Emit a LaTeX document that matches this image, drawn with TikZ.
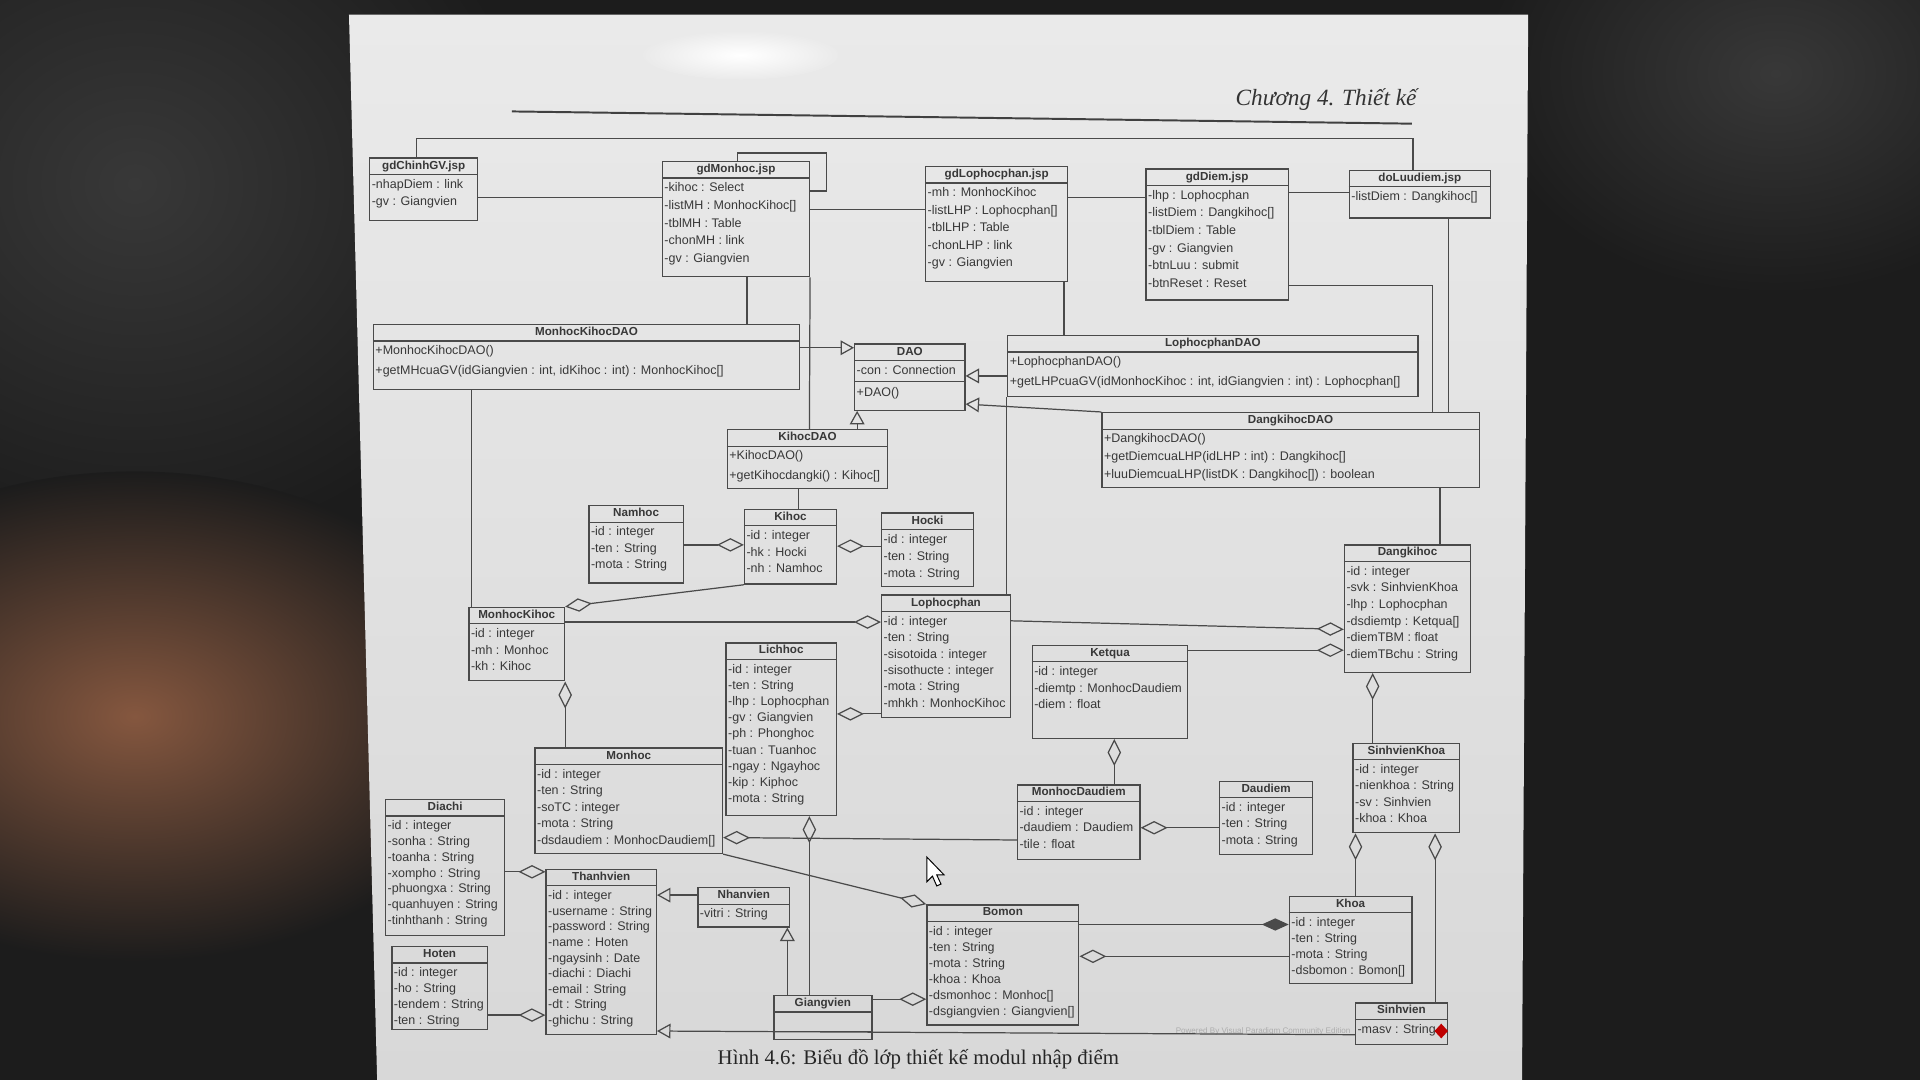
\documentclass[tikz,border=0pt]{standalone}
\usepackage{fontspec}
\setmainfont{Liberation Serif}
\newfontfamily\dsans{Liberation Sans}
\usetikzlibrary{arrows.meta,fit,calc}
\definecolor{lc}{HTML}{4A4A4A}
\definecolor{tc}{HTML}{383838}
\definecolor{pagetop}{HTML}{EAEAEA}
\definecolor{pagebot}{HTML}{D8D8D8}
\definecolor{bgd}{HTML}{1C1C1C}
\definecolor{bgbrown}{HTML}{85573F}
\definecolor{bggray}{HTML}{383838}
\tikzset{
 clsbox/.style={draw=lc, line width=1.1pt, inner sep=0pt},
 clstitle/.style={font=\dsans\bfseries\fontsize{9.5}{11}\selectfont, text=tc, inner sep=0pt, text height=7.2pt, text depth=2pt},
 clsrows/.style={text=tc, inner sep=1pt, align=left},
 clsline/.style={draw=lc, line width=1pt},
 conn/.style={draw=lc, line width=1pt},
 agg/.style={conn, -{Diamond[open, length=22pt, width=11pt]}},
 comp/.style={conn, -{Diamond[length=22pt, width=10pt]}},
 gen/.style={conn, -{Triangle[open, length=11pt, width=12pt]}},
}
\newcommand\umlclass[3]{%
  \node[clsbox, fit={#2}] (#1) {};
  \node[clstitle] (#1-t) at ([yshift=-7pt]#1.north) {#3};
  \draw[clsline] ([yshift=-14pt]#1.north west) -- ([yshift=-14pt]#1.north east);
}
\newcommand\umlrows[3][13.5]{%
  \node[clsrows, font=\dsans\fontsize{10.2}{#1}\selectfont, anchor=north west] (#2-a) at ([xshift=1pt,yshift=-16pt]#2.north west) {\rule{0pt}{8pt}#3};
}
\begin{document}
\begin{tikzpicture}[x=1pt,y=-1pt]
\useasboundingbox (0,0) rectangle (1568,882);
% photo background
\fill[bgd] (0,0) rectangle (1568,882);
\shade[inner color=bggray, outer color=bgd] (110,150) ellipse [x radius=330, y radius=300];
\shade[inner color=bgbrown, outer color=bgd] (110,585) ellipse [x radius=300, y radius=200];
\shade[inner color=bggray, outer color=bgd] (1450,60) ellipse [x radius=240, y radius=180];
% page
\shade[top color=pagetop, bottom color=pagebot] (285,12) -- (1248,12) -- (1243,882) -- (308,882) -- cycle;
\shade[inner color=white, outer color=pagetop] (605,45) ellipse [x radius=80, y radius=20];

% header
\node[font=\itshape\fontsize{19}{22}\selectfont, text=black!80, anchor=base east, inner sep=0pt] (hdr) at (1157,86) {Chương 4. Thiết kế};
\draw[line width=1.6pt, black!75] (418,91) -- (1153,101);

% ---------- classes ----------
\umlclass{gdChinhGV}{(302,129) (390,180)}{gdChinhGV.jsp}
\umlrows[14]{gdChinhGV}{-nhapDiem : link\\-gv : Giangvien}

\umlclass{gdMonhoc}{(541,132) (661,226)}{gdMonhoc.jsp}
\umlrows[14.4]{gdMonhoc}{-kihoc : Select\\-listMH : MonhocKihoc[]\\-tblMH : Table\\-chonMH : link\\-gv : Giangvien}

\umlclass{gdLophocphan}{(756,136) (872,230)}{gdLophocphan.jsp}
\umlrows[14.3]{gdLophocphan}{-mh : MonhocKihoc\\-listLHP : Lophocphan[]\\-tblLHP : Table\\-chonLHP : link\\-gv : Giangvien}

\umlclass{gdDiem}{(936,138) (1052,245)}{gdDiem.jsp}
\umlrows[14.4]{gdDiem}{-lhp : Lophocphan\\-listDiem : Dangkihoc[]\\-tblDiem : Table\\-gv : Giangvien\\-btnLuu : submit\\-btnReset : Reset}

\umlclass{doLuudiem}{(1102,139) (1217,178)}{doLuudiem.jsp}
\umlrows{doLuudiem}{-listDiem : Dangkihoc[]}

\umlclass{MonhocKihocDAO}{(305,265) (653,318)}{MonhocKihocDAO}
\umlrows[16]{MonhocKihocDAO}{+MonhocKihocDAO()\\+getMHcuaGV(idGiangvien : int, idKihoc : int) : MonhocKihoc[]}

\umlclass{DAO}{(698,281) (788,335)}{DAO}
\umlrows[18]{DAO}{-con : Connection\\+DAO()}
\draw[clsline] ([yshift=-31pt]DAO.north west) -- ([yshift=-31pt]DAO.north east);

\umlclass{LophocphanDAO}{(823,274) (1158,324)}{LophocphanDAO}
\umlrows[16]{LophocphanDAO}{+LophocphanDAO()\\+getLHPcuaGV(idMonhocKihoc : int, idGiangvien : int) : Lophocphan[]}

\umlclass{DangkihocDAO}{(900,337) (1208,398)}{DangkihocDAO}
\umlrows[14.5]{DangkihocDAO}{+DangkihocDAO()\\+getDiemcuaLHP(idLHP : int) : Dangkihoc[]\\+luuDiemcuaLHP(listDK : Dangkihoc[]) : boolean}

\umlclass{KihocDAO}{(594,351) (725,399)}{KihocDAO}
\umlrows[16]{KihocDAO}{+KihocDAO()\\+getKihocdangki() : Kihoc[]}

\umlclass{Namhoc}{(481,413) (558,476)}{Namhoc}
\umlrows{Namhoc}{-id : integer\\-ten : String\\-mota : String}

\umlclass{Kihoc}{(608,416) (683,477)}{Kihoc}
\umlrows{Kihoc}{-id : integer\\-hk : Hocki\\-nh : Namhoc}

\umlclass{Hocki}{(720,419) (795,479)}{Hocki}
\umlrows[14]{Hocki}{-id : integer\\-ten : String\\-mota : String}

\umlclass{MonhocKihoc}{(383,496) (461,556)}{MonhocKihoc}
\umlrows{MonhocKihoc}{-id : integer\\-mh : Monhoc\\-kh : Kihoc}

\umlclass{Lophocphan}{(720,486) (825,586)}{Lophocphan}
\umlrows[13.4]{Lophocphan}{-id : integer\\-ten : String\\-sisotoida : integer\\-sisothucte : integer\\-mota : String\\-mhkh : MonhocKihoc}

\umlclass{Lichhoc}{(593,525) (683,666)}{Lichhoc}
\umlrows[13.25]{Lichhoc}{-id : integer\\-ten : String\\-lhp : Lophocphan\\-gv : Giangvien\\-ph : Phonghoc\\-tuan : Tuanhoc\\-ngay : Ngayhoc\\-kip : Kiphoc\\-mota : String}

\umlclass{Ketqua}{(843,527) (970,603)}{Ketqua}
\umlrows{Ketqua}{-id : integer\\-diemtp : MonhocDaudiem\\-diem : float}

\umlclass{Dangkihoc}{(1098,445) (1201,549)}{Dangkihoc}
\umlrows[13.6]{Dangkihoc}{-id : integer\\-svk : SinhvienKhoa\\-lhp : Lophocphan\\-dsdiemtp : Ketqua[]\\-diemTBM : float\\-diemTBchu : String}

\umlclass{SinhvienKhoa}{(1105,607) (1192,680)}{SinhvienKhoa}
\umlrows[13.3]{SinhvienKhoa}{-id : integer\\-nienkhoa : String\\-sv : Sinhvien\\-khoa : Khoa}

\umlclass{Monhoc}{(437,611) (590,697)}{Monhoc}
\umlrows{Monhoc}{-id : integer\\-ten : String\\-soTC : integer\\-mota : String\\-dsdaudiem : MonhocDaudiem[]}

\umlclass{MonhocDaudiem}{(831,641) (931,702)}{MonhocDaudiem}
\umlrows{MonhocDaudiem}{-id : integer\\-daudiem : Daudiem\\-tile : float}

\umlclass{Daudiem}{(996,638) (1072,698)}{Daudiem}
\umlrows{Daudiem}{-id : integer\\-ten : String\\-mota : String}

\umlclass{Diachi}{(315,653) (412,764)}{Diachi}
\umlrows[12.9]{Diachi}{-id : integer\\-sonha : String\\-toanha : String\\-xompho : String\\-phuongxa : String\\-quanhuyen : String\\-tinhthanh : String}

\umlclass{Thanhvien}{(446,710) (536,845)}{Thanhvien}
\umlrows[12.75]{Thanhvien}{-id : integer\\-username : String\\-password : String\\-name : Hoten\\-ngaysinh : Date\\-diachi : Diachi\\-email : String\\-dt : String\\-ghichu : String}

\umlclass{Nhanvien}{(570,725) (645,757)}{Nhanvien}
\umlrows{Nhanvien}{-vitri : String}

\umlclass{Hoten}{(320,773) (398,841)}{Hoten}
\umlrows[13]{Hoten}{-id : integer\\-ho : String\\-tendem : String\\-ten : String}

\umlclass{Giangvien}{(632,813) (712,849)}{Giangvien}
\draw[clsline] ([yshift=-30pt]Giangvien.north west) -- ([yshift=-30pt]Giangvien.north east);

\umlclass{Bomon}{(757,739) (881,837)}{Bomon}
\umlrows[13.2]{Bomon}{-id : integer\\-ten : String\\-mota : String\\-khoa : Khoa\\-dsmonhoc : Monhoc[]\\-dsgiangvien : Giangvien[]}

\umlclass{Khoa}{(1053,732) (1153,803)}{Khoa}
\umlrows[13]{Khoa}{-id : integer\\-ten : String\\-mota : String\\-dsbomon : Bomon[]}

\node[font=\dsans\fontsize{6.6}{8}\selectfont, text=black!32, anchor=base west, inner sep=0pt] (wm) at (960,844) {Powered By Visual Paradigm Community Edition};
\umlclass{Sinhvien}{(1107,819) (1182,853)}{Sinhvien}
\umlrows{Sinhvien}{-masv : String}
\fill[red!75!black] (1177,836) -- (1182.5,842) -- (1177,848) -- (1171.5,842) -- cycle;

% ---------- connectors ----------
\draw[conn] (340,0 |- gdChinhGV.north) -- (340,113) -- (1154,113) -- (1154,0 |- doLuudiem.north);
\draw[conn] (gdChinhGV.east |- 0,161) -- (gdMonhoc.west |- 0,161);
\draw[conn] (602,0 |- gdMonhoc.north) -- (602,125) -- (675,125) -- (675,156) -- (gdMonhoc.east |- 0,156);
\draw[conn] (gdMonhoc.east |- 0,171) -- (gdLophocphan.west |- 0,171);
\draw[conn] (gdLophocphan.east |- 0,161) -- (gdDiem.west |- 0,161);
\draw[conn] (gdDiem.east |- 0,157) -- (doLuudiem.west |- 0,157);
\draw[conn] (gdDiem.east |- 0,233) -| (1170,0 |- DangkihocDAO.north);
\draw[conn] (1183,0 |- doLuudiem.south) -- (1183,0 |- DangkihocDAO.north);
\draw[conn] (610,0 |- gdMonhoc.south) -- (610,0 |- MonhocKihocDAO.north);
\draw[conn] (gdMonhoc.south east) -- (661,0 |- KihocDAO.north);
\draw[conn] (869,0 |- gdLophocphan.south) -- (869,0 |- LophocphanDAO.north);
\draw[gen] (MonhocKihocDAO.east |- 0,284) -- (DAO.west |- 0,284);
\draw[gen] (LophocphanDAO.west |- 0,307) -- (DAO.east |- 0,307);
\draw[gen] (DangkihocDAO.north west) -- (DAO.east |- 0,330);
\draw[gen] (700,0 |- KihocDAO.north) -- (700,0 |- DAO.south);
\draw[conn] (652,0 |- KihocDAO.south) -- (652,0 |- Kihoc.north);
\draw[conn] (385,0 |- MonhocKihocDAO.south) -- (385,0 |- MonhocKihoc.north);
\draw[conn] (822,0 |- LophocphanDAO.south) -- (822,0 |- Lophocphan.north);
\draw[conn] (1176,0 |- DangkihocDAO.south) -- (1176,0 |- Dangkihoc.north);
\draw[agg] (Namhoc.east |- 0,445) -- (Kihoc.west |- 0,445);
\draw[agg] (Hocki.west |- 0,446) -- (Kihoc.east |- 0,446);
\draw[agg] (Kihoc.south west) -- (MonhocKihoc.north east);
\draw[agg] (MonhocKihoc.east |- 0,508) -- (Lophocphan.west |- 0,508);
\draw[agg] (MonhocKihoc.south east |- Monhoc.north) -- (MonhocKihoc.south east);
\draw[agg] (Lophocphan.west |- 0,583) -- (Lichhoc.east |- 0,583);
\draw[agg] (Lophocphan.east |- 0,507) -- (Dangkihoc.west |- 0,514);
\draw[agg] (Ketqua.east |- 0,531) -- (Dangkihoc.west |- 0,531);
\draw[agg] (1121,0 |- SinhvienKhoa.north) -- (1121,0 |- Dangkihoc.south);
\draw[agg] (910,0 |- MonhocDaudiem.north) -- (910,0 |- Ketqua.south);
\draw[agg] (Daudiem.west |- 0,676) -- (MonhocDaudiem.east |- 0,676);
\draw[agg] (MonhocDaudiem.west |- 0,686) -- (Monhoc.east |- 0,684);
\draw[agg] (661,0 |- Giangvien.north) -- (661,0 |- Lichhoc.south);
\draw[gen] (643,0 |- Giangvien.north) -- (643,0 |- Nhanvien.south);
\draw[gen] (Nhanvien.west |- 0,731) -- (Thanhvien.east |- 0,731);
\draw[gen] (Sinhvien.west |- 0,845) -- (Thanhvien.east |- 0,842);
\draw[agg] (Diachi.east |- 0,712) -- (Thanhvien.west |- 0,712);
\draw[agg] (Hoten.east |- 0,829) -- (Thanhvien.west |- 0,829);
\draw[agg] (Monhoc.south east) -- (Bomon.north west);
\draw[agg] (Giangvien.east |- 0,816) -- (Bomon.west |- 0,816);
\draw[comp] (Bomon.east |- 0,755) -- (Khoa.west |- 0,755);
\draw[agg] (Khoa.west |- 0,781) -- (Bomon.east |- 0,781);
\draw[agg] (1107,0 |- Khoa.north) -- (1107,0 |- SinhvienKhoa.south);
\draw[agg] (1172,0 |- Sinhvien.north) -- (1172,0 |- SinhvienKhoa.south);

% cursor
\filldraw[fill=white, draw=black, line width=0.8pt] (757,700) -- (757,720) -- (761.5,715.5) -- (765,723.5) -- (768.5,722) -- (765,714.5) -- (771,714.5) -- cycle;

% caption
\node[font=\fontsize{17}{20}\selectfont, text=black!85, anchor=base, inner sep=0pt] (cap) at (750,869) {Hình 4.6: Biểu đồ lớp thiết kế modul nhập điểm};
\end{tikzpicture}
\end{document}
